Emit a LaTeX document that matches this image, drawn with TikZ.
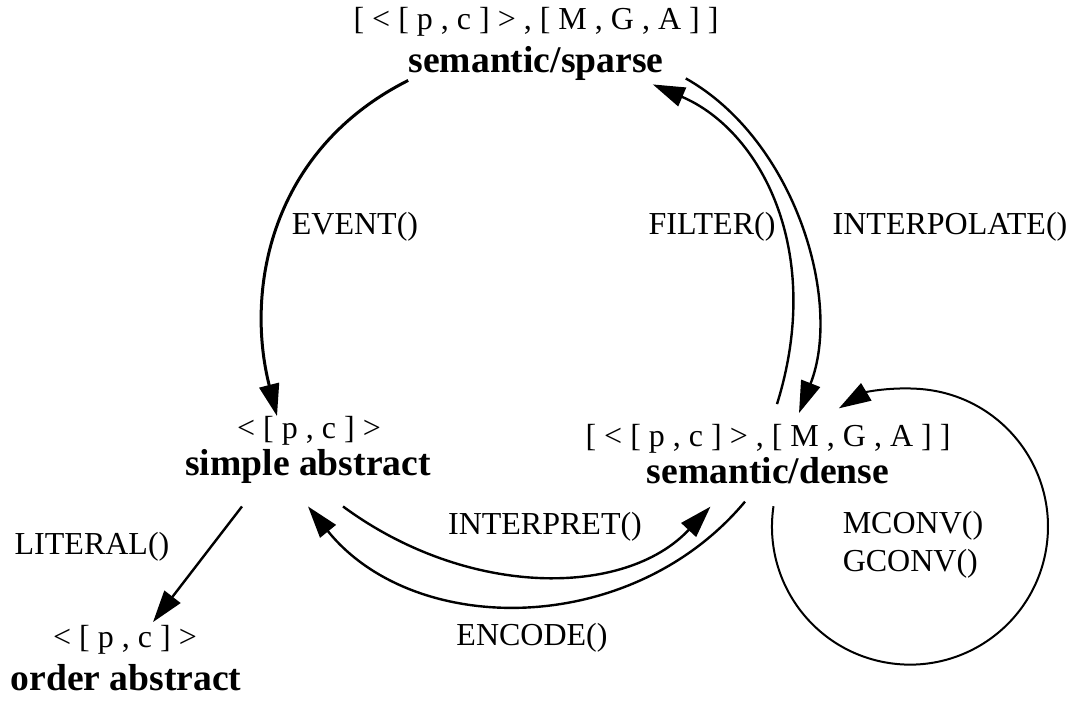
\documentclass[tikz,border=0pt]{standalone}
\usepackage{fontspec}
\setmainfont{Liberation Serif}
\usetikzlibrary{arrows.meta}

\begin{document}
\begin{tikzpicture}[x=0.5pt,y=-0.5pt,
	sig/.style={font=\fontsize{16}{19}\selectfont,inner sep=0pt},
	state/.style={font=\fontsize{18.8}{22}\selectfont\bfseries,inner sep=0pt},
	fn/.style={font=\fontsize{16}{19}\selectfont,inner sep=0pt},
	arr/.style={line width=1.2pt,-{Triangle[length=16pt,width=10pt]}}]
	\useasboundingbox (0,0) rectangle (1076,710);

	\node[sig] (sparsesig) at (536,22) {[ < [ p , c ] > , [ M , G , A ] ]};
	\node[state] (sparse) at (536,63) {semantic/sparse};
	\node[sig] (simplesig) at (309,431) {< [ p , c ] >};
	\node[state] (simple) at (308,466) {simple abstract};
	\node[sig] (densesig) at (768,439) {[ < [ p , c ] > , [ M , G , A ] ]};
	\node[state] (dense) at (768,471) {semantic/dense};
	\node[sig] (ordersig) at (125,640) {< [ p , c ] >};
	\node[state] (order) at (126,678) {order abstract};

	\node[fn] (event) at (355,227) {EVENT()};
	\node[fn] (filter) at (712,227) {FILTER()};
	\node[fn] (interpolate) at (950,227) {INTERPOLATE()};
	\node[fn] (literal) at (92,547) {LITERAL()};
	\node[fn] (interpret) at (545,527) {INTERPRET()};
	\node[fn] (encode) at (532,638) {ENCODE()};
	\node[fn,align=left] (conv) at (913,545) {MCONV()\\GCONV()};

	\draw[arr,line width=1.5pt] (sparse.south west) .. controls (270,150) and (245,290) .. ([shift={(-32,0)}]simplesig.north);
	\draw[arr] ([shift={(9,-20)}]densesig.north) .. controls (825,250) and (760,130) .. ([shift={(-11,4)}]sparse.south east);
	\draw[arr] ([shift={(22,-2)}]sparse.south east) .. controls (795,140) and (843,301) .. ([shift={(31,-11)}]densesig.north);
	\draw[arr,line width=1pt] ([shift={(5.5,21.6)}]dense.south) arc[start angle=188.5,end angle=-121,radius=138];
	\draw[arr] ([shift={(35,23)}]simple.south) .. controls (467,598) and (625,598) .. ([shift={(64,22)}]dense.south west);
	\draw[arr] ([shift={(-23,17)}]dense.south) .. controls (631,638) and (414,638) .. ([shift={(0,23)}]simple.south);
	\draw[arr] ([shift={(-66,23)}]simple.south) -- ([shift={(28,-3)}]ordersig.north);
\end{tikzpicture}
\end{document}
